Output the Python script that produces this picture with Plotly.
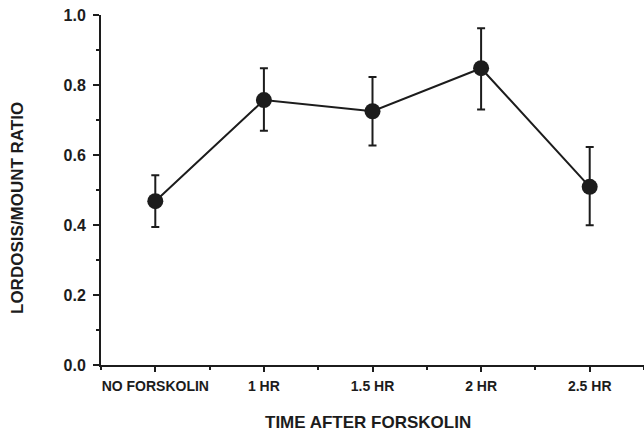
import plotly.graph_objects as go

categories = ["NO FORSKOLIN", "1 HR", "1.5 HR", "2 HR", "2.5 HR"]
ratio = [0.468, 0.757, 0.725, 0.848, 0.509]
err_upper = [0.542, 0.848, 0.823, 0.962, 0.623]
err_lower = [0.394, 0.669, 0.627, 0.730, 0.399]
y_ticks = [0.0, 0.2, 0.4, 0.6, 0.8, 1.0]

x_pos = list(range(len(categories)))
plus = [u - v for u, v in zip(err_upper, ratio)]
minus = [v - l for v, l in zip(ratio, err_lower)]

INK = "#1c1c1c"
FONT = "Arial, 'Liberation Sans', Helvetica, sans-serif"

fig = go.Figure()
fig.add_trace(go.Scatter(
    x=x_pos, y=ratio, mode="lines+markers",
    line=dict(color=INK, width=2),
    marker=dict(size=16, color=INK),
    error_y=dict(type="data", symmetric=False, array=plus, arrayminus=minus,
                 color=INK, thickness=2, width=4),
    showlegend=False, cliponaxis=False,
))

fig.update_layout(
    width=644, height=431,
    margin=dict(l=101, r=0, t=15, b=66),
    paper_bgcolor="white", plot_bgcolor="white",
    font=dict(family=FONT, color=INK),
)
fig.update_xaxes(
    range=[-0.5, 4.5], tickmode="array", tickvals=x_pos, ticktext=categories,
    ticks="outside", ticklen=5, tickwidth=1.5, tickcolor=INK,
    tickfont=dict(size=14, family=FONT, color=INK, weight="bold"),
    showline=True, linecolor=INK, linewidth=2, showgrid=False, zeroline=False,
    minor=dict(tickmode="array", tickvals=[-0.5, 0.5, 1.5, 2.5, 3.5, 4.5],
               ticks="outside", ticklen=3, tickwidth=1.5, tickcolor=INK, showgrid=False),
    ticklabelstandoff=2,
)
fig.update_yaxes(
    range=[0, 1], tickmode="array", tickvals=y_ticks, tickformat=".1f",
    ticks="outside", ticklen=6, tickwidth=1.5, tickcolor=INK,
    tickfont=dict(size=16, family=FONT, color=INK, weight="bold"),
    showline=True, linecolor=INK, linewidth=2, showgrid=False, zeroline=False,
    minor=dict(tickmode="array", tickvals=[0.1, 0.3, 0.5, 0.7, 0.9],
               ticks="outside", ticklen=3, tickwidth=1.5, tickcolor=INK, showgrid=False),
    ticklabelstandoff=4,
)
fig.add_annotation(
    text="TIME AFTER FORSKOLIN", xref="paper", yref="paper",
    x=(368 - 101) / 543, y=-(422 - 365) / 350, xanchor="center", yanchor="middle",
    showarrow=False, font=dict(size=17, family=FONT, color=INK, weight="bold"),
)
fig.add_annotation(
    text="LORDOSIS/MOUNT RATIO", xref="paper", yref="paper",
    x=-(101 - 18) / 543, y=(365 - 208) / 350, xanchor="center", yanchor="middle",
    textangle=-90, showarrow=False,
    font=dict(size=17, family=FONT, color=INK, weight="bold"),
)

fig.write_html("out.html")
